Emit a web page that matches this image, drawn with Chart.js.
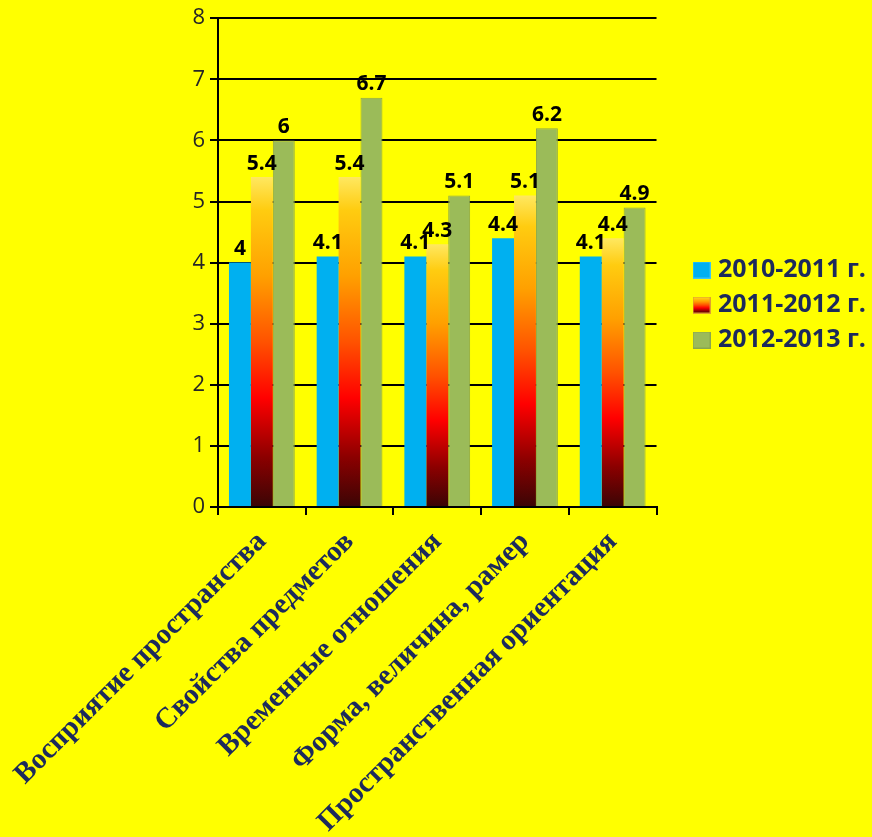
<!DOCTYPE html>
<html>
<head>
<meta charset="utf-8">
<script src="https://cdn.jsdelivr.net/npm/chart.js@4.4.1/dist/chart.umd.min.js"></script>
<style>
  html, body { margin: 0; padding: 0; background: #FFFF00; }
  canvas { display: block; }
</style>
</head>
<body>
<canvas id="chart" width="872" height="837"></canvas>
<script>
// Категории и значения по годам
const categories = [
    'Восприятие пространства',
    'Свойства предметов',
    'Временные отношения',
    'Форма, величина, рамер',
    'Пространственная ориентация'
];
const seriesNames = ['2010-2011 г.', '2011-2012 г.', '2012-2013 г.'];
const values2010 = [4, 4.1, 4.1, 4.4, 4.1];
const values2011 = [5.4, 5.4, 4.3, 5.1, 4.4];
const values2012 = [6, 6.7, 5.1, 6.2, 4.9];
const yTicks = [0, 1, 2, 3, 4, 5, 6, 7, 8];

const navy = '#1C2A5C';
const blue = '#00B0F0';
const green = '#9BBB59';

// градиент "огонь" для второго ряда, свой у каждого столбика
const fireStops = [
    [0, '#3A0505'],
    [0.15, '#8B0000'],
    [0.33, '#FF0000'],
    [0.5, '#FF5200'],
    [0.7, '#FFA000'],
    [0.9, '#FFCC10'],
    [1, '#FFE860']
];

function fireGradient(ctx) {
    const chart = ctx.chart;
    if (!chart.chartArea || ctx.type !== 'data') return '#FF6600';
    const y = chart.scales.y;
    const g = chart.ctx.createLinearGradient(0, y.getPixelForValue(0), 0, y.getPixelForValue(ctx.raw));
    fireStops.forEach(s => g.addColorStop(s[0], s[1]));
    return g;
}

// маленькие квадратики для легенды
function swatch(fill, stroke) {
    const c = document.createElement('canvas');
    c.width = 18;
    c.height = 17;
    const x = c.getContext('2d');
    if (fill === 'fire') {
        const g = x.createLinearGradient(0, 17, 0, 0);
        fireStops.forEach(s => g.addColorStop(s[0], s[1]));
        x.fillStyle = g;
    } else {
        x.fillStyle = fill;
    }
    x.fillRect(0, 0, 18, 17);
    x.strokeStyle = stroke;
    x.lineWidth = 1;
    x.strokeRect(0.5, 0.5, 17, 16);
    return c;
}
const swatches = [swatch(blue, '#3CC4F4'), swatch('fire', '#E0A030'), swatch(green, '#8AA64D')];

const valueLabels = {
    id: 'valueLabels',
    afterDatasetsDraw(chart) {
        const c = chart.ctx;
        c.save();
        c.font = 'bold 21px "Open Sans"';
        c.fillStyle = '#000';
        c.textAlign = 'center';
        c.textBaseline = 'bottom';
        chart.data.datasets.forEach((ds, i) => {
            chart.getDatasetMeta(i).data.forEach((bar, j) => {
                c.fillText(String(ds.data[j]), bar.x, bar.y - 3);
            });
        });
        c.restore();
    }
};

// легенда справа, по центру чуть ниже середины графика
const placeLegend = {
    id: 'placeLegend',
    afterLayout(chart) {
        const lg = chart.legend;
        const w = lg.right - lg.left;
        lg.left = chart.chartArea.right + 31;
        lg.right = lg.left + w;
        lg.top = 0;
        lg.bottom = 610;
    }
};

new Chart(document.getElementById('chart'), {
    type: 'bar',
    data: {
        labels: categories,
        datasets: [
            { label: seriesNames[0], data: values2010, backgroundColor: blue },
            { label: seriesNames[1], data: values2011, backgroundColor: fireGradient },
            { label: seriesNames[2], data: values2012, backgroundColor: green, borderColor: '#8AA64D', borderWidth: 1 }
        ]
    },
    options: {
        responsive: false,
        animation: false,
        layout: { padding: { top: 18, right: 27, left: 0, bottom: 0 } },
        datasets: { bar: { categoryPercentage: 0.75, barPercentage: 1 } },
        plugins: {
            legend: {
                position: 'right',
                labels: {
                    usePointStyle: true,
                    pointStyleWidth: 8,
                    padding: 10,
                    color: navy,
                    font: { family: '"Open Sans"', size: 25, weight: 'bold' },
                    generateLabels(chart) {
                        const items = Chart.defaults.plugins.legend.labels.generateLabels(chart);
                        items.forEach((it, i) => { it.pointStyle = swatches[i]; });
                        return items;
                    }
                }
            },
            tooltip: { enabled: false }
        },
        scales: {
            x: {
                afterFit(scale) {
                    scale.height = 330;
                    scale.paddingLeft = 0;
                    scale.paddingRight = 0;
                },
                grid: { display: true, drawOnChartArea: false, offset: true, color: '#000', lineWidth: 2, tickLength: 8 },
                border: { color: '#000', width: 2 },
                ticks: {
                    autoSkip: false,
                    maxRotation: 45,
                    minRotation: 45,
                    padding: 10,
                    color: navy,
                    font: { family: '"Liberation Serif"', size: 29, weight: 'bold' }
                }
            },
            y: {
                min: yTicks[0],
                max: yTicks[yTicks.length - 1],
                afterFit(scale) { scale.width = 218; },
                afterBuildTicks(scale) { scale.ticks = yTicks.map(v => ({ value: v })); },
                grid: { color: '#000', lineWidth: 2, tickLength: 8 },
                border: { color: '#000', width: 2 },
                ticks: {
                    padding: 5,
                    color: '#262626',
                    font: { family: '"Open Sans"', size: 22 }
                }
            }
        }
    },
    plugins: [valueLabels, placeLegend]
});
</script>
</body>
</html>
